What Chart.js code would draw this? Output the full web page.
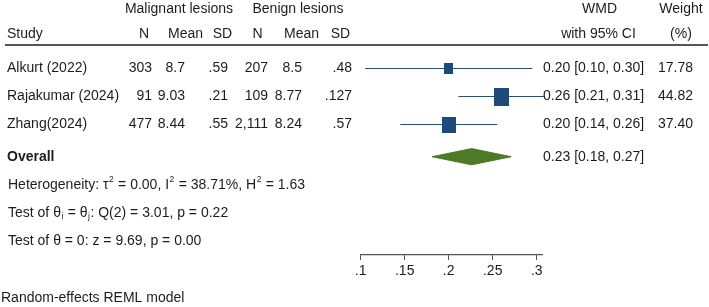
<!DOCTYPE html>
<html><head><meta charset="utf-8">
<script src="https://cdn.jsdelivr.net/npm/chart.js@4.4.1/dist/chart.umd.min.js"></script>
<style>html,body{margin:0;padding:0;background:#fff;overflow:hidden}#wrap{width:709px;height:307px;position:relative}</style>
</head><body><div id="wrap"><canvas id="c" width="709" height="307"></canvas></div>
<script>
// ---- data ----
const studies = ["Alkurt (2022)", "Rajakumar (2024)", "Zhang(2024)"];
const malN = ["303", "91", "477"];
const malMean = ["8.7", "9.03", "8.44"];
const malSD = [".59", ".21", ".55"];
const benN = ["207", "109", "2,111"];
const benMean = ["8.5", "8.77", "8.24"];
const benSD = [".48", ".127", ".57"];
const wmd = [0.20, 0.26, 0.20];
const ciLow = [0.105, 0.211, 0.145];
const ciHigh = [0.295, 0.309, 0.255];
const weights = [17.78, 44.82, 37.40];
const wmdLabels = ["0.20 [0.10, 0.30]", "0.26 [0.21, 0.31]", "0.20 [0.14, 0.26]"];
const weightLabels = ["17.78", "44.82", "37.40"];
const overallEst = 0.226;
const overallLow = 0.181;
const overallHigh = 0.271;
const overallLabel = "0.23 [0.18, 0.27]";
const tickValues = [0.1, 0.15, 0.2, 0.25, 0.3];
const tickLabels = [".1", ".15", ".2", ".25", ".3"];

// ---- layout / style ----
const FONT = '"Liberation Sans", Arial, sans-serif';
const FS = 14;
const TXT = '#1c1c1c';
const NAVY = '#1d4a7a';
const LINE = '#2b4f72';
const GREEN = '#4e7a27';
const rowY = studies.map((s, i) => i + 1);
const overallY = 4.15;
const footY = [5.16, 6.16, 7.16];
const diamondH = 0.29;

function squareImg(w) {
  const s = 2.22 * Math.sqrt(w);
  const c = document.createElement('canvas');
  c.width = Math.round(s); c.height = Math.round(s * 1.2);
  const g = c.getContext('2d');
  g.fillStyle = NAVY; g.fillRect(0, 0, c.width, c.height);
  return c;
}

const datasets = [];
datasets.push({
  label: 'studies', data: wmd.map((v, i) => ({x: v, y: rowY[i]})),
  pointStyle: weights.map(squareImg), pointRadius: 6, pointHoverRadius: 6, clip: false
});
studies.forEach((s, i) => datasets.push({
  label: 'ci' + i, data: [{x: ciLow[i], y: rowY[i]}, {x: ciHigh[i], y: rowY[i]}],
  showLine: true, borderColor: LINE, borderWidth: 1.2, pointRadius: 0, clip: false
}));
datasets.push({
  label: 'diamondTop',
  data: [{x: overallLow, y: overallY}, {x: overallEst, y: overallY - diamondH}, {x: overallHigh, y: overallY}],
  showLine: true, borderColor: GREEN, backgroundColor: GREEN, borderWidth: 1, pointRadius: 0, fill: '+1', tension: 0
});
datasets.push({
  label: 'diamondBottom',
  data: [{x: overallLow, y: overallY}, {x: overallEst, y: overallY + diamondH}, {x: overallHigh, y: overallY}],
  showLine: true, borderColor: GREEN, backgroundColor: GREEN, borderWidth: 1, pointRadius: 0, fill: false, tension: 0
});

function rich(ctx, x, y, segs, size) {
  let cx = x;
  for (const s of segs) {
    if (typeof s === 'string') {
      ctx.font = size + 'px ' + FONT;
      ctx.fillText(s, cx, y);
      cx += ctx.measureText(s).width;
    } else {
      ctx.font = '8.5px ' + FONT;
      ctx.fillText(s.t, cx + 0.5, y + (s.sub ? 4 : -5.5));
      cx += ctx.measureText(s.t).width + 1;
    }
  }
}

const tablePlugin = {
  id: 'table',
  afterDraw(chart) {
    const ctx = chart.ctx, ys = chart.scales.y;
    ctx.save();
    ctx.fillStyle = TXT;
    ctx.textBaseline = 'middle';
    const f = FS + 'px ' + FONT;
    ctx.font = f;
    // headers
    ctx.textAlign = 'center';
    ctx.fillText('Malignant lesions', 179, 9);
    ctx.fillText('Benign lesions', 298, 9);
    ctx.fillText('WMD', 599.5, 9);
    ctx.fillText('Weight', 681, 9);
    const h2 = 34;
    ctx.fillText('N', 144, h2);
    ctx.fillText('Mean', 185.5, h2);
    ctx.fillText('SD', 222.5, h2);
    ctx.fillText('N', 257.5, h2);
    ctx.fillText('Mean', 301.5, h2);
    ctx.fillText('SD', 340.5, h2);
    ctx.fillText('with 95% CI', 598.5, h2);
    ctx.fillText('(%)', 681, h2);
    ctx.textAlign = 'left';
    ctx.fillText('Study', 7, h2);
    // separator
    ctx.strokeStyle = '#555'; ctx.lineWidth = 2;
    ctx.beginPath(); ctx.moveTo(5, 45); ctx.lineTo(708, 45); ctx.stroke();
    // rows
    studies.forEach((s, i) => {
      const y = ys.getPixelForValue(rowY[i]);
      ctx.textAlign = 'left';
      ctx.fillText(s, 7, y);
      ctx.fillText(wmdLabels[i], 543, y);
      ctx.textAlign = 'right';
      ctx.fillText(malN[i], 152, y);
      ctx.fillText(malMean[i], 185, y);
      ctx.fillText(malSD[i], 228, y);
      ctx.fillText(benN[i], 268, y);
      ctx.fillText(benMean[i], 302, y);
      ctx.fillText(benSD[i], 352, y);
      ctx.fillText(weightLabels[i], 693, y);
    });
    const oy = ys.getPixelForValue(overallY);
    ctx.textAlign = 'left';
    ctx.font = 'bold ' + FS + 'px ' + FONT;
    ctx.fillText('Overall', 7, oy);
    ctx.font = f;
    ctx.fillText(overallLabel, 543, oy);
    // footer stats
    rich(ctx, 8, ys.getPixelForValue(footY[0]),
      ['Heterogeneity: \u03c4', {t: '2'}, ' = 0.00, I', {t: '2'}, ' = 38.71%, H', {t: '2'}, ' = 1.63'], FS);
    rich(ctx, 8, ys.getPixelForValue(footY[1]),
      ['Test of \u03b8', {t: 'i', sub: true}, ' = \u03b8', {t: 'j', sub: true}, ': Q(2) = 3.01, p = 0.22'], FS);
    rich(ctx, 8, ys.getPixelForValue(footY[2]), ['Test of \u03b8 = 0: z = 9.69, p = 0.00'], FS);
    ctx.font = f;
    ctx.fillText('Random-effects REML model', 1, 298);
    ctx.restore();
  }
};

new Chart(document.getElementById('c'), {
  type: 'scatter',
  data: {datasets},
  plugins: [tablePlugin],
  options: {
    responsive: false, animation: false, devicePixelRatio: 1,
    layout: {padding: {left: 360.7, right: 167, top: 40.5, bottom: 0}},
    plugins: {legend: {display: false}, tooltip: {enabled: false}},
    events: [],
    scales: {
      x: {
        type: 'linear', min: 0.1, max: 0.306,
        afterBuildTicks: (s) => { s.ticks = tickValues.map(v => ({value: v})); },
        afterFit: (s) => { s.height = 52; },
        ticks: {
          autoSkip: false, maxRotation: 0, padding: 3, color: TXT,
          font: {size: FS, family: FONT},
          callback: (v) => tickLabels[tickValues.findIndex(t => Math.abs(t - v) < 1e-9)]
        },
        grid: {drawOnChartArea: false, drawTicks: true, tickLength: 5, color: '#555', lineWidth: 1},
        border: {display: true, color: '#555', width: 1.2}
      },
      y: {type: 'linear', reverse: true, min: 0, max: 7.66, display: false}
    }
  }
});
</script>
</body></html>
